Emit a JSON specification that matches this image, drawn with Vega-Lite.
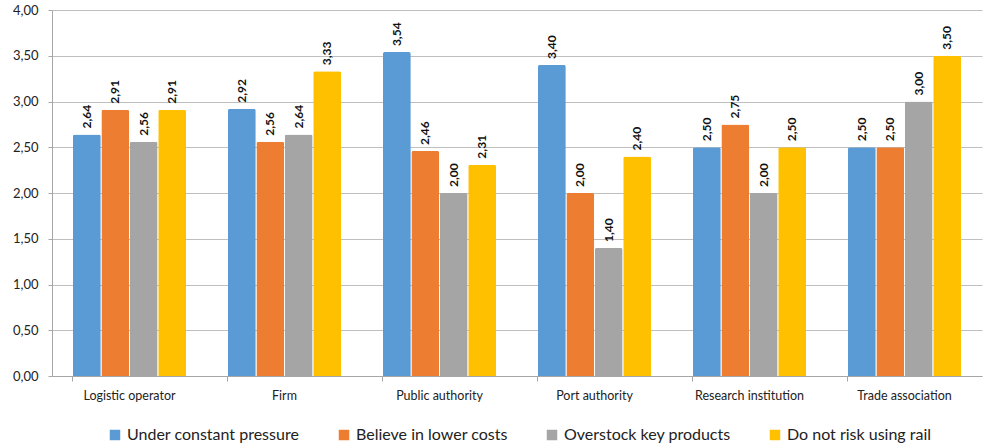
{
  "$schema": "https://vega.github.io/schema/vega-lite/v6.json",
  "width": 930,
  "height": 366,
  "autosize": "none",
  "padding": {"left": 52, "top": 10, "right": 7, "bottom": 71},
  "background": "white",
  "data": {
    "values": [
      {"cat": "Logistic operator", "series": "Under constant pressure", "value": 2.64},
      {"cat": "Logistic operator", "series": "Believe in lower costs", "value": 2.91},
      {"cat": "Logistic operator", "series": "Overstock key products", "value": 2.56},
      {"cat": "Logistic operator", "series": "Do not risk using rail", "value": 2.91},
      {"cat": "Firm", "series": "Under constant pressure", "value": 2.92},
      {"cat": "Firm", "series": "Believe in lower costs", "value": 2.56},
      {"cat": "Firm", "series": "Overstock key products", "value": 2.64},
      {"cat": "Firm", "series": "Do not risk using rail", "value": 3.33},
      {"cat": "Public authority", "series": "Under constant pressure", "value": 3.54},
      {"cat": "Public authority", "series": "Believe in lower costs", "value": 2.46},
      {"cat": "Public authority", "series": "Overstock key products", "value": 2.00},
      {"cat": "Public authority", "series": "Do not risk using rail", "value": 2.31},
      {"cat": "Port authority", "series": "Under constant pressure", "value": 3.40},
      {"cat": "Port authority", "series": "Believe in lower costs", "value": 2.00},
      {"cat": "Port authority", "series": "Overstock key products", "value": 1.40},
      {"cat": "Port authority", "series": "Do not risk using rail", "value": 2.40},
      {"cat": "Research institution", "series": "Under constant pressure", "value": 2.50},
      {"cat": "Research institution", "series": "Believe in lower costs", "value": 2.75},
      {"cat": "Research institution", "series": "Overstock key products", "value": 2.00},
      {"cat": "Research institution", "series": "Do not risk using rail", "value": 2.50},
      {"cat": "Trade association", "series": "Under constant pressure", "value": 2.50},
      {"cat": "Trade association", "series": "Believe in lower costs", "value": 2.50},
      {"cat": "Trade association", "series": "Overstock key products", "value": 3.00},
      {"cat": "Trade association", "series": "Do not risk using rail", "value": 3.50}
    ]
  },
  "encoding": {
    "x": {
      "field": "cat",
      "type": "nominal",
      "sort": null,
      "scale": {"paddingInner": 0.27, "paddingOuter": 0.135},
      "axis": {
        "title": null,
        "labelAngle": 0,
        "labelFont": "Lato",
        "labelFontSize": 12.5,
        "labelColor": "#222222",
        "labelPadding": 8,
        "domainColor": "#a6a6a6",
        "tickColor": "#a6a6a6",
        "tickSize": 5,
        "bandPosition": 0
      }
    },
    "xOffset": {
      "field": "series",
      "type": "nominal",
      "sort": ["Under constant pressure", "Believe in lower costs", "Overstock key products", "Do not risk using rail"],
      "scale": {"paddingInner": 0.02}
    },
    "y": {
      "field": "value",
      "type": "quantitative",
      "scale": {"domain": [0, 4]},
      "axis": {
        "title": null,
        "values": [0, 0.5, 1, 1.5, 2, 2.5, 3, 3.5, 4],
        "labelExpr": "replace(format(datum.value, '.2f'), '.', ',')",
        "labelFont": "Lato",
        "labelFontSize": 13,
        "labelColor": "#222222",
        "labelPadding": 10,
        "domainColor": "#a6a6a6",
        "tickColor": "#a6a6a6",
        "tickSize": 4,
        "gridColor": "#bfbfbf",
        "gridWidth": 1.2
      }
    }
  },
  "layer": [
    {
      "mark": {"type": "bar", "cornerRadiusTopLeft": 2, "cornerRadiusTopRight": 2},
      "encoding": {
        "color": {
          "field": "series",
          "type": "nominal",
          "sort": ["Under constant pressure", "Believe in lower costs", "Overstock key products", "Do not risk using rail"],
          "scale": {
            "domain": ["Under constant pressure", "Believe in lower costs", "Overstock key products", "Do not risk using rail"],
            "range": ["#5b9bd5", "#ed7d31", "#a5a5a5", "#ffc000"]
          },
          "legend": {
            "title": null,
            "orient": "none",
            "legendX": 55,
            "legendY": 417,
            "direction": "horizontal",
            "symbolType": "square",
            "symbolSize": 110,
            "symbolStrokeWidth": 0,
            "labelFont": "Lato",
            "labelFontSize": 16,
            "labelColor": "#222222",
            "labelLimit": 400,
            "columnPadding": 36
          }
        }
      }
    },
    {
      "mark": {
        "type": "text",
        "angle": 270,
        "align": "left",
        "baseline": "middle",
        "dx": 6,
        "font": "Lato",
        "fontSize": 12,
        "fontWeight": "bold",
        "text": {"expr": "replace(format(datum.value, '.2f'), '.', ',')"}
      },
      "encoding": {"color": {"value": "#111111"}}
    }
  ],
  "config": {"view": {"stroke": null}}
}
